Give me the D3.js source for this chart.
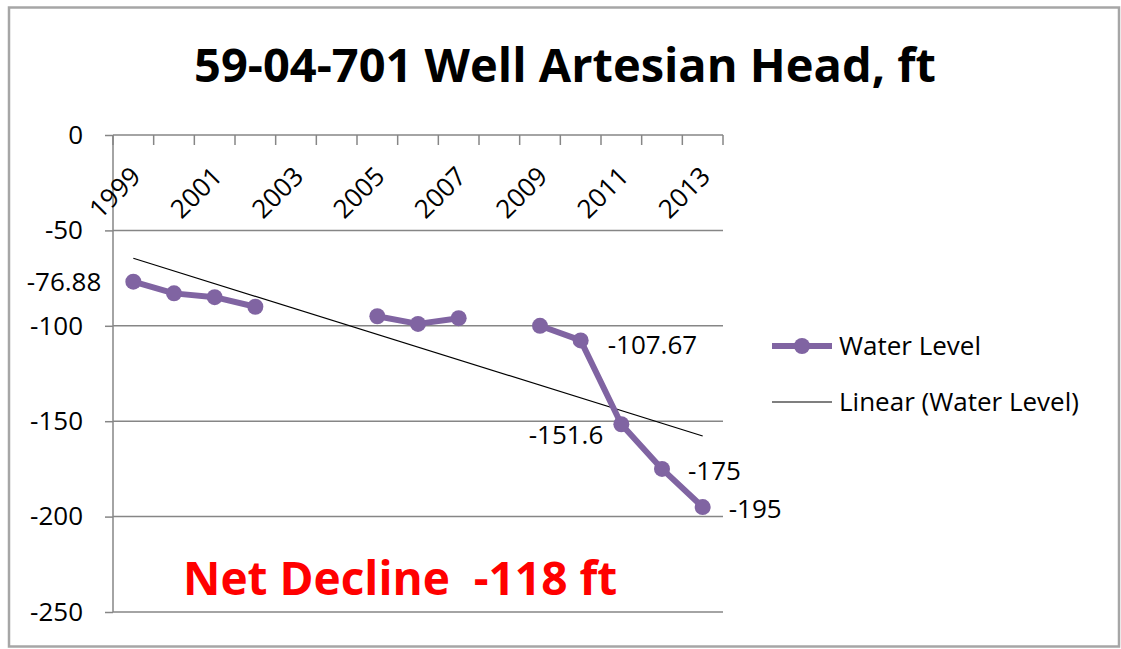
<!DOCTYPE html>
<html>
<head>
<meta charset="utf-8">
<script src="https://cdn.jsdelivr.net/npm/d3@7"></script>
<style>
    body { margin: 0; background: #fff; }
    svg text { font-family: "Open Sans", "Noto Sans", sans-serif; }
</style>
</head>
<body>
<div id="chart"></div>
<script>
// Well artesian head chart

const years = [1999, 2000, 2001, 2002, 2003, 2004, 2005, 2006, 2007, 2008, 2009, 2010, 2011, 2012, 2013];
// null = no reading that year (gap in the line)
const waterLevel = [-76.88, -83, -85, -90, null, null, -95, -99, -96, null, -100, -107.67, -151.6, -175, -195];
const yTicks = [0, -50, -100, -150, -200, -250];
const yearLabels = [1999, 2001, 2003, 2005, 2007, 2009, 2011, 2013];
const labelledYears = [1999, 2010, 2011, 2012, 2013];

// where each data label sits relative to its point
const labelPlace = {
    1999: { dx: -32, dy: 0, anchor: "end" },
    2010: { dx: 27, dy: 4, anchor: "start" },
    2011: { dx: -18, dy: 10, anchor: "end" },
    2012: { dx: 26, dy: 2, anchor: "start" },
    2013: { dx: 26, dy: 2, anchor: "start" }
};

function createVisualization() {
    const svgWidth = 1121;
    const svgHeight = 649;
    const plot = { left: 113, top: 135, right: 723, bottom: 612 };
    const purple = "#8064A2";
    const gridColor = "#868686";
    const fontSize = 26;

    const data = years.map((yr, i) => ({ year: yr, idx: i + 1, value: waterLevel[i] }));
    const points = data.filter(d => d.value !== null);

    const svg = d3.select("#chart")
        .append("svg")
        .attr("width", svgWidth)
        .attr("height", svgHeight);

    // chart border
    svg.append("rect")
        .attr("x", 9).attr("y", 7.5)
        .attr("width", 1110).attr("height", 639)
        .attr("fill", "#fff")
        .attr("stroke", "#a6a6a6")
        .attr("stroke-width", 2.5);

    // Create scales
    const xScale = d3.scaleBand()
        .domain(years)
        .range([plot.left, plot.right])
        .padding(0);
    const cx = yr => xScale(yr) + xScale.bandwidth() / 2;

    const yScale = d3.scaleLinear()
        .domain([0, -250])
        .range([plot.top, plot.bottom]);

    // gridlines
    svg.append("g")
        .selectAll("line")
        .data(yTicks.slice(1))
        .enter().append("line")
        .attr("x1", plot.left).attr("x2", plot.right)
        .attr("y1", d => yScale(d)).attr("y2", d => yScale(d))
        .attr("stroke", gridColor)
        .attr("stroke-width", 1.5);

    // y axis (plain hyphen for negatives, like the original)
    const yAxis = d3.axisLeft(yScale)
        .tickValues(yTicks)
        .tickSize(8)
        .tickPadding(22)
        .tickFormat(d => String(d));

    const yAxisG = svg.append("g")
        .attr("transform", `translate(${plot.left},0)`)
        .call(yAxis);
    yAxisG.select(".domain").remove();
    yAxisG.selectAll(".tick line").attr("stroke", gridColor).attr("stroke-width", 1.5);
    yAxisG.selectAll(".tick text")
        .attr("font-size", fontSize)
        .attr("fill", "#000")
        .style("font-family", "'Open Sans', sans-serif");

    svg.append("line")
        .attr("x1", plot.left).attr("x2", plot.left)
        .attr("y1", plot.top).attr("y2", plot.bottom)
        .attr("stroke", gridColor)
        .attr("stroke-width", 1.5);

    // x axis along the zero line, ticks between categories
    const xAxisY = yScale(0);
    svg.append("line")
        .attr("x1", plot.left).attr("x2", plot.right)
        .attr("y1", xAxisY).attr("y2", xAxisY)
        .attr("stroke", gridColor)
        .attr("stroke-width", 1.5);

    const boundaries = years.map(yr => xScale(yr)).concat([xScale.range()[1]]);
    svg.append("g")
        .selectAll("line")
        .data(boundaries)
        .enter().append("line")
        .attr("x1", d => d).attr("x2", d => d)
        .attr("y1", xAxisY).attr("y2", xAxisY + 10)
        .attr("stroke", gridColor)
        .attr("stroke-width", 1.5);

    svg.append("g")
        .selectAll("text")
        .data(yearLabels)
        .enter().append("text")
        .attr("transform", d => `translate(${cx(d) + 9},${xAxisY + 43}) rotate(-45)`)
        .attr("text-anchor", "end")
        .attr("font-size", fontSize)
        .attr("fill", "#000")
        .text(d => d);

    // linear trend (least squares on category index, as the spreadsheet does)
    const mx = d3.mean(points, d => d.idx);
    const my = d3.mean(points, d => d.value);
    const slope = d3.sum(points, d => (d.idx - mx) * (d.value - my)) /
        d3.sum(points, d => (d.idx - mx) ** 2);
    const intercept = my - slope * mx;
    const trend = [data[0], data[data.length - 1]];

    svg.append("line")
        .attr("x1", cx(trend[0].year))
        .attr("y1", yScale(intercept + slope * trend[0].idx))
        .attr("x2", cx(trend[1].year))
        .attr("y2", yScale(intercept + slope * trend[1].idx))
        .attr("stroke", "#000")
        .attr("stroke-width", 1.2);

    // water level line with gaps
    const line = d3.line()
        .defined(d => d.value !== null)
        .x(d => cx(d.year))
        .y(d => yScale(d.value));

    svg.append("path")
        .datum(data)
        .attr("fill", "none")
        .attr("stroke", purple)
        .attr("stroke-width", 6)
        .attr("stroke-linejoin", "round")
        .attr("d", line);

    svg.selectAll(".dot")
        .data(points)
        .enter().append("circle")
        .attr("class", "dot")
        .attr("cx", d => cx(d.year))
        .attr("cy", d => yScale(d.value))
        .attr("r", 8)
        .attr("fill", purple);

    // data labels
    svg.append("g")
        .selectAll("text")
        .data(points.filter(d => labelledYears.includes(d.year)))
        .enter().append("text")
        .attr("x", d => cx(d.year) + labelPlace[d.year].dx)
        .attr("y", d => yScale(d.value) + labelPlace[d.year].dy)
        .attr("dy", "0.36em")
        .attr("text-anchor", d => labelPlace[d.year].anchor)
        .attr("font-size", fontSize)
        .attr("fill", "#000")
        .text(d => d.value);

    // title
    svg.append("text")
        .attr("x", 565)
        .attr("y", 82)
        .attr("text-anchor", "middle")
        .attr("font-size", 47)
        .attr("font-weight", "bold")
        .attr("fill", "#000")
        .text("59-04-701 Well Artesian Head, ft");

    // annotation
    svg.append("text")
        .attr("x", 183)
        .attr("y", 595)
        .attr("font-size", 46)
        .attr("font-weight", "bold")
        .attr("fill", "#ff0000")
        .style("white-space", "pre")
        .text("Net Decline  -118 ft");

    // legend
    const legend = svg.append("g");
    legend.append("line")
        .attr("x1", 772).attr("x2", 832)
        .attr("y1", 346).attr("y2", 346)
        .attr("stroke", purple).attr("stroke-width", 6);
    legend.append("circle")
        .attr("cx", 802).attr("cy", 346).attr("r", 8)
        .attr("fill", purple);
    legend.append("text")
        .attr("x", 839).attr("y", 346).attr("dy", "0.36em")
        .attr("font-size", fontSize).attr("fill", "#000")
        .text("Water Level");

    legend.append("line")
        .attr("x1", 772).attr("x2", 832)
        .attr("y1", 402).attr("y2", 402)
        .attr("stroke", "#000").attr("stroke-width", 1.2);
    legend.append("text")
        .attr("x", 839).attr("y", 402).attr("dy", "0.36em")
        .attr("font-size", fontSize).attr("fill", "#000")
        .text("Linear (Water Level)");
}

createVisualization();
</script>
</body>
</html>
